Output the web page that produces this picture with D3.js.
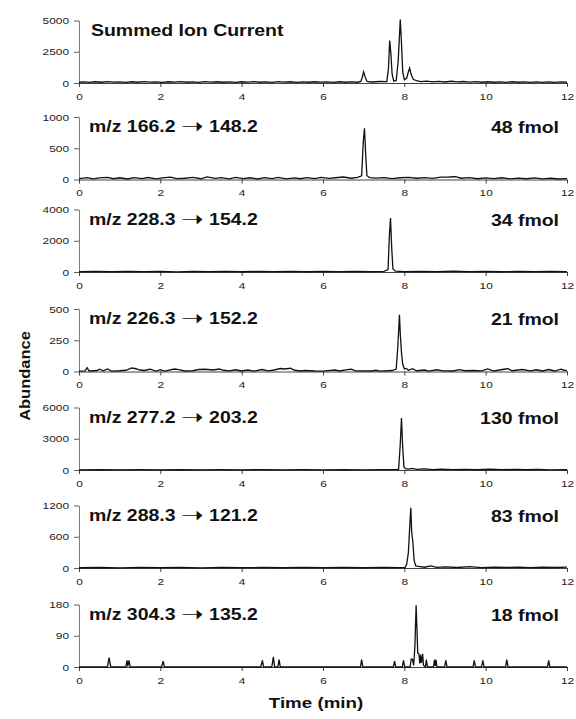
<!DOCTYPE html>
<html>
<head>
<meta charset="utf-8">
<script src="https://cdn.jsdelivr.net/npm/d3@7"></script>
<style>
  body { margin: 0; background: #fff; }
  svg { display: block; font-family: "Liberation Sans", Arial, Helvetica, sans-serif; }
</style>
</head>
<body>
<div id="chart"></div>
<script>
// ---- data ----
const xTicks = [0, 2, 4, 6, 8, 10, 12];
const precursorMz = [null, "166.2", "228.3", "226.3", "277.2", "288.3", "304.3"];
const productMz = [null, "148.2", "154.2", "152.2", "203.2", "121.2", "135.2"];
const amounts = [null, "48 fmol", "34 fmol", "21 fmol", "130 fmol", "83 fmol", "18 fmol"];
const yMax = [5000, 1000, 4000, 500, 6000, 1200, 180];
const yTicks = [
  [0, 2500, 5000], [0, 500, 1000], [0, 2000, 4000], [0, 250, 500],
  [0, 3000, 6000], [0, 600, 1200], [0, 90, 180]
];

// [time (min), abundance]
const sicTrace = [[0,60],[0.12,90],[0.25,50],[0.4,100],[0.55,60],[0.7,110],[0.85,70],[1.0,95],[1.15,55],[1.3,100],[1.45,60],[1.6,110],[1.75,70],[1.9,90],[2.05,50],[2.2,100],[2.35,65],[2.5,105],[2.65,60],[2.8,95],[2.95,55],[3.1,110],[3.25,70],[3.4,100],[3.55,60],[3.7,90],[3.85,50],[4.0,100],[4.15,65],[4.3,110],[4.45,60],[4.6,95],[4.75,55],[4.9,105],[5.05,70],[5.2,100],[5.35,55],[5.5,95],[5.65,60],[5.8,100],[5.95,65],[6.1,90],[6.25,55],[6.4,100],[6.55,60],[6.7,95],[6.85,60],[6.93,120],[6.96,400],[7.0,890],[7.04,450],[7.08,120],[7.2,80],[7.4,120],[7.57,110],[7.61,1200],[7.64,3400],[7.67,2300],[7.7,700],[7.74,150],[7.8,200],[7.85,1800],[7.9,5080],[7.93,3200],[7.96,900],[8.0,250],[8.06,400],[8.1,900],[8.13,1190],[8.17,650],[8.22,300],[8.3,180],[8.4,110],[8.55,150],[8.7,90],[8.85,130],[9.0,80],[9.15,140],[9.3,90],[9.45,120],[9.6,70],[9.75,110],[9.9,60],[10.05,100],[10.2,60],[10.35,90],[10.5,55],[10.65,100],[10.8,60],[10.95,90],[11.1,50],[11.25,95],[11.4,55],[11.55,90],[11.7,50],[11.85,85],[12,60]];

const trace166 = [[0,15],[0.2,30],[0.35,10],[0.5,25],[0.7,35],[0.85,12],[1.0,28],[1.2,8],[1.35,30],[1.55,15],[1.7,32],[1.9,10],[2.05,25],[2.25,38],[2.4,14],[2.6,20],[2.8,35],[3.0,12],[3.15,42],[3.35,18],[3.5,30],[3.7,10],[3.85,35],[4.05,15],[4.2,28],[4.4,8],[4.55,30],[4.75,14],[4.9,33],[5.1,10],[5.3,26],[5.45,12],[5.6,30],[5.8,15],[5.95,35],[6.15,18],[6.3,28],[6.5,40],[6.7,20],[6.85,35],[6.95,60],[6.99,600],[7.02,820],[7.05,400],[7.08,60],[7.15,30],[7.3,22],[7.5,30],[7.7,15],[7.9,28],[8.1,35],[8.3,20],[8.5,30],[8.7,18],[8.9,38],[9.1,40],[9.25,45],[9.4,20],[9.6,30],[9.8,12],[10.0,25],[10.2,15],[10.4,28],[10.6,10],[10.8,22],[11.0,12],[11.2,26],[11.4,10],[11.6,20],[11.8,8],[12,15]];

const trace228 = [[0,20],[0.4,40],[0.8,15],[1.2,45],[1.6,20],[2.0,35],[2.4,10],[2.8,40],[3.2,25],[3.6,45],[4.0,15],[4.4,35],[4.8,20],[5.2,40],[5.6,15],[6.0,35],[6.4,20],[6.8,45],[7.2,25],[7.5,40],[7.6,150],[7.63,2200],[7.66,3460],[7.69,1500],[7.72,200],[7.78,50],[8.0,30],[8.4,45],[8.8,25],[9.2,50],[9.6,20],[10.0,40],[10.4,15],[10.8,35],[11.2,20],[11.6,40],[12,25]];

const trace226 = [[0,3],[0.15,5],[0.2,30],[0.25,4],[0.45,8],[0.5,18],[0.6,5],[0.7,20],[0.8,3],[1.0,6],[1.15,10],[1.3,28],[1.4,22],[1.5,12],[1.6,8],[1.75,18],[1.9,4],[2.0,14],[2.1,3],[2.35,20],[2.45,15],[2.6,4],[2.8,6],[2.95,16],[3.1,18],[3.3,12],[3.45,20],[3.55,10],[3.7,5],[3.85,14],[4.0,4],[4.15,12],[4.3,3],[4.5,16],[4.65,5],[4.8,12],[4.95,24],[5.05,20],[5.2,26],[5.3,10],[5.45,4],[5.55,8],[5.8,4],[6.0,3],[6.3,12],[6.4,4],[6.6,15],[6.7,18],[6.8,5],[7.2,4],[7.3,10],[7.4,3],[7.7,8],[7.8,20],[7.84,200],[7.88,454],[7.9,300],[7.93,150],[7.96,60],[8.0,20],[8.05,25],[8.1,10],[8.2,22],[8.3,6],[8.5,12],[8.6,3],[8.8,14],[8.95,5],[9.2,4],[9.35,15],[9.5,6],[9.7,8],[9.9,5],[10.05,20],[10.2,4],[10.45,18],[10.55,22],[10.65,6],[10.9,16],[11.1,5],[11.25,14],[11.4,4],[11.55,16],[11.7,4],[11.85,18],[12,5]];

const trace277 = [[0,20],[0.5,40],[1.0,15],[1.5,35],[2.0,20],[2.5,45],[3.0,15],[3.5,30],[4.0,20],[4.5,40],[5.0,15],[5.5,35],[6.0,20],[6.5,40],[7.0,15],[7.5,35],[7.8,30],[7.86,80],[7.9,2500],[7.93,5000],[7.96,2200],[7.99,300],[8.03,120],[8.1,90],[8.2,150],[8.3,60],[8.5,100],[8.7,40],[8.9,80],[9.2,30],[9.5,60],[9.8,25],[10.1,70],[10.4,30],[10.7,60],[11.0,25],[11.3,55],[11.6,20],[12,40]];

const trace288 = [[0,5],[0.5,10],[1.0,4],[1.5,12],[2.0,6],[2.5,10],[3.0,4],[3.5,12],[4.0,6],[4.5,10],[5.0,5],[5.5,12],[6.0,6],[6.5,10],[7.0,5],[7.5,12],[7.9,6],[8.02,10],[8.06,80],[8.1,300],[8.14,900],[8.16,1155],[8.18,700],[8.21,500],[8.24,150],[8.28,40],[8.35,30],[8.5,15],[8.65,40],[8.8,12],[9.0,20],[9.3,10],[9.6,25],[9.9,8],[10.2,18],[10.5,10],[10.8,16],[11.1,8],[11.4,14],[11.7,10],[12,15]];

const trace304 = [[0,0],[0.7,0],[0.74,27],[0.78,0],[1.15,0],[1.18,19],[1.2,2],[1.23,19],[1.26,0],[2.03,0],[2.07,17],[2.1,0],[4.47,0],[4.51,19],[4.54,0],[4.74,0],[4.78,29],[4.81,0],[4.89,0],[4.92,21],[4.95,0],[6.92,0],[6.95,21],[6.98,0],[7.73,0],[7.76,17],[7.79,0],[7.95,0],[7.98,19],[8.01,0],[8.14,0],[8.17,23],[8.2,22],[8.23,5],[8.26,60],[8.29,178],[8.31,110],[8.33,40],[8.36,38],[8.38,10],[8.4,35],[8.42,12],[8.45,38],[8.47,5],[8.52,0],[8.54,21],[8.57,0],[8.72,0],[8.74,21],[8.76,3],[8.78,21],[8.8,0],[8.99,0],[9.02,19],[9.05,0],[9.69,0],[9.72,19],[9.75,0],[9.9,0],[9.93,19],[9.96,0],[10.49,0],[10.52,21],[10.55,0],[11.52,0],[11.55,19],[11.58,0],[12,0]];

const traces = [sicTrace, trace166, trace228, trace226, trace277, trace288, trace304];

// ---- layout ----
const WIDTH = 576, HEIGHT = 719;
const X0 = 79, X1 = 567;
const PANEL_ZERO = [83, 179.5, 272, 371.5, 470, 568, 667];
const PANEL_H = 62.5;
const TICK_SX = 1.25; // glyphs in the scan are a bit wider than tall
const INK = "#111";

const svg = d3.select("#chart").append("svg")
  .attr("width", WIDTH)
  .attr("height", HEIGHT);

svg.append("rect").attr("width", WIDTH).attr("height", HEIGHT).attr("fill", "#fff");

const x = d3.scaleLinear().domain([0, 12]).range([X0, X1]);

function addText(parent, px, py, str, size, weight, anchor, sx) {
  return parent.append("text")
    .attr("transform", `translate(${px},${py}) scale(${sx},1)`)
    .attr("font-size", size + "px")
    .attr("font-weight", weight)
    .attr("text-anchor", anchor)
    .attr("fill", INK)
    .text(str);
}

traces.forEach((trace, i) => {
  const zero = PANEL_ZERO[i];
  const y = d3.scaleLinear().domain([0, yMax[i]]).range([zero, zero - PANEL_H]);
  const g = svg.append("g").attr("class", "panel");

  // x axis
  const xAxis = g.append("g")
    .attr("transform", `translate(0, ${zero})`)
    .call(d3.axisBottom(x).tickValues(xTicks).tickSize(4).tickSizeOuter(0).tickPadding(6));
  xAxis.select(".domain").attr("stroke", INK).attr("stroke-width", 0.8);
  xAxis.selectAll(".tick line").attr("stroke", INK).attr("stroke-width", 0.8);
  xAxis.selectAll(".tick text")
    .attr("font-size", "9.5px")
    .attr("fill", "#222")
    .attr("transform", `scale(${TICK_SX},1)`);

  // y axis
  const yAxis = g.append("g")
    .attr("transform", `translate(${X0}, 0)`)
    .call(d3.axisLeft(y).tickValues(yTicks[i]).tickFormat(d3.format("d"))
      .tickSize(5).tickSizeOuter(0).tickPadding(0));
  yAxis.select(".domain").attr("stroke", "#444").attr("stroke-width", 0.7);
  yAxis.selectAll(".tick line").attr("stroke", "#333").attr("stroke-width", 0.8);
  yAxis.selectAll(".tick text")
    .attr("font-size", "9.5px")
    .attr("fill", "#222")
    .attr("x", -10 / TICK_SX)
    .attr("transform", `scale(${TICK_SX},1)`);
  g.selectAll("g").attr("font-family", null);

  // trace
  const line = d3.line()
    .x(d => x(d[0]))
    .y(d => y(d[1]));

  g.append("path")
    .datum(trace)
    .attr("d", line)
    .attr("fill", "none")
    .attr("stroke", INK)
    .attr("stroke-width", 1.3)
    .attr("stroke-linejoin", "miter");

  // labels
  const titleY = zero - 47.5;
  if (i === 0) {
    addText(g, 91, titleY, "Summed Ion Current", 16.5, "bold", "start", 1.18);
  } else {
    const t = addText(g, 89, titleY, "", 16.5, "bold", "start", 1.18);
    t.append("tspan").text(`m/z ${precursorMz[i]} `);
    t.append("tspan")
      .attr("font-family", "'DejaVu Sans', sans-serif")
      .attr("font-weight", "normal")
      .attr("font-size", "23px")
      .attr("dy", 2)
      .text("\u279D");
    t.append("tspan").attr("dy", -2).text(` ${productMz[i]}`);
    addText(g, 559, zero - 46.5, amounts[i], 16.5, "bold", "end", 1.18);
  }
});

// axis titles
addText(svg, 316, 708, "Time (min)", 15, "bold", "middle", 1.25);
svg.append("text")
  .attr("transform", "translate(30, 376) rotate(-90) scale(1.1,1)")
  .attr("font-size", "15px")
  .attr("font-weight", "bold")
  .attr("text-anchor", "middle")
  .attr("fill", INK)
  .text("Abundance");
</script>
</body>
</html>
